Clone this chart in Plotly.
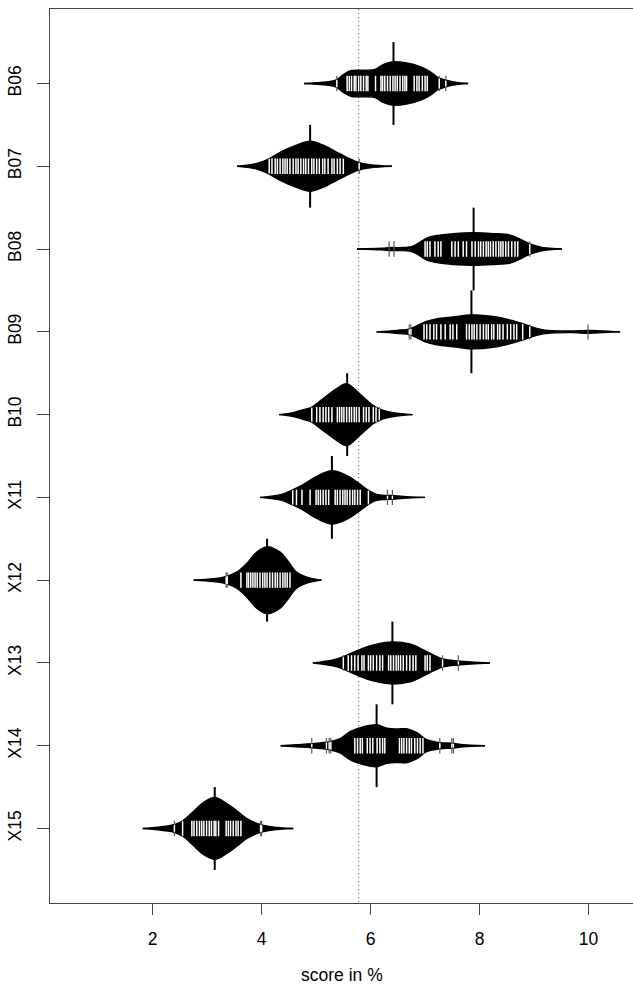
import numpy as np
import plotly.graph_objects as go

# ---------------- data ----------------
beans = ["B06", "B07", "B08", "B09", "B10", "X11", "X12", "X13", "X14", "X15"]

obs_b06 = [5.38, 5.57, 5.61, 5.65, 5.70, 5.73, 5.78, 5.82, 5.87, 5.92, 5.95, 6.09, 6.19, 6.22,
           6.26, 6.31, 6.36, 6.41, 6.45, 6.49, 6.54, 6.59, 6.63, 6.66, 6.80, 6.85, 6.89, 6.95,
           7.00, 7.04, 7.26, 7.38]
obs_b07 = [4.14, 4.19, 4.25, 4.29, 4.34, 4.39, 4.43, 4.47, 4.52, 4.58, 4.63, 4.67, 4.72, 4.77,
           4.81, 4.86, 4.92, 4.96, 5.01, 5.06, 5.12, 5.16, 5.22, 5.29, 5.33, 5.39, 5.44, 5.50, 5.79]
obs_b08 = [6.34, 6.43, 7.00, 7.04, 7.09, 7.18, 7.24, 7.29, 7.49, 7.55, 7.61, 7.70, 7.76, 7.86,
           7.92, 7.98, 8.02, 8.07, 8.12, 8.16, 8.20, 8.25, 8.30, 8.35, 8.39, 8.43, 8.48, 8.53,
           8.59, 8.65, 8.70, 8.92]
obs_b09 = [6.71, 6.74, 6.98, 7.03, 7.09, 7.16, 7.21, 7.29, 7.37, 7.46, 7.51, 7.58, 7.76, 7.81,
           7.86, 7.90, 7.95, 8.01, 8.07, 8.12, 8.16, 8.22, 8.26, 8.33, 8.37, 8.43, 8.51, 8.57,
           8.63, 8.68, 8.79, 8.92, 9.99]
obs_b10 = [4.92, 5.01, 5.07, 5.13, 5.18, 5.23, 5.29, 5.39, 5.43, 5.47, 5.51, 5.56, 5.61, 5.65,
           5.70, 5.74, 5.79, 5.87, 5.92, 5.97, 6.05, 6.10, 6.16]
obs_x11 = [4.57, 4.64, 4.74, 4.89, 5.00, 5.04, 5.08, 5.13, 5.18, 5.23, 5.35, 5.39, 5.44, 5.49,
           5.53, 5.57, 5.62, 5.67, 5.71, 5.76, 5.81, 5.96, 6.31, 6.40]
obs_x12 = [3.35, 3.37, 3.62, 3.73, 3.76, 3.80, 3.84, 3.88, 3.92, 3.97, 4.02, 4.06, 4.10, 4.15,
           4.20, 4.25, 4.29, 4.34, 4.39, 4.43, 4.47, 4.52]
obs_x13 = [5.50, 5.59, 5.65, 5.71, 5.77, 5.84, 5.88, 5.96, 6.00, 6.05, 6.11, 6.17, 6.22, 6.33,
           6.37, 6.42, 6.47, 6.51, 6.55, 6.60, 6.66, 6.72, 6.78, 6.83, 7.00, 7.04, 7.09, 7.32, 7.61]
obs_x14 = [4.92, 5.19, 5.24, 5.27, 5.71, 5.76, 5.81, 5.85, 5.94, 5.99, 6.04, 6.12, 6.17, 6.22,
           6.26, 6.53, 6.57, 6.61, 6.66, 6.71, 6.75, 6.81, 6.86, 6.91, 6.96, 7.27, 7.49, 7.52]
obs_x15 = [2.40, 2.55, 2.72, 2.76, 2.81, 2.86, 2.90, 2.94, 2.99, 3.04, 3.08, 3.13, 3.16, 3.21,
           3.35, 3.39, 3.43, 3.48, 3.53, 3.57, 3.62, 3.98, 4.00]

# bean density outlines: score values and half-widths (in category units)
dens_x_b06 = [4.78, 5.26, 5.38, 5.50, 5.65, 5.87, 6.08, 6.23, 6.42, 6.66, 6.91, 7.09, 7.24, 7.40, 7.58, 7.79]
dens_w_b06 = [0, .024, .048, .109, .157, .161, .169, .229, .262, .248, .205, .145, .072, .036, .012, 0]
dens_x_b07 = [3.55, 3.85, 4.03, 4.15, 4.34, 4.64, 4.89, 5.13, 5.38, 5.56, 5.77, 5.99, 6.39]
dens_w_b07 = [0, .024, .060, .097, .169, .254, .302, .254, .169, .109, .048, .018, 0]
dens_x_b08 = [5.75, 6.20, 6.38, 6.60, 6.78, 6.91, 7.03, 7.21, 7.52, 7.88, 8.25, 8.56, 8.74, 8.89, 9.05, 9.23, 9.51]
dens_w_b08 = [0, .010, .018, .018, .036, .085, .133, .163, .187, .197, .187, .169, .121, .072, .036, .012, 0]
dens_x_b09 = [6.11, 6.48, 6.72, 6.85, 7.00, 7.21, 7.52, 7.85, 8.25, 8.62, 8.80, 8.96, 9.17, 9.41, 9.72, 9.99, 10.27, 10.58]
dens_w_b09 = [0, .018, .036, .072, .121, .157, .181, .205, .187, .133, .097, .060, .024, .012, .010, .018, .010, 0]
dens_x_b10 = [4.32, 4.58, 4.77, 4.92, 5.13, 5.38, 5.56, 5.81, 6.05, 6.23, 6.42, 6.77]
dens_w_b10 = [0, .024, .060, .090, .193, .314, .374, .245, .109, .050, .024, 0]
dens_x_x11 = [3.97, 4.37, 4.55, 4.77, 5.01, 5.29, 5.56, 5.81, 5.96, 6.11, 6.30, 6.40, 6.60, 7.00]
dens_w_x11 = [0, .036, .085, .157, .254, .322, .266, .157, .085, .036, .024, .024, .012, 0]
dens_x_x12 = [2.75, 3.11, 3.30, 3.54, 3.73, 3.91, 4.10, 4.34, 4.46, 4.64, 4.83, 5.10]
dens_w_x12 = [0, .018, .036, .097, .205, .338, .405, .338, .250, .097, .036, 0]
dens_x_x13 = [4.94, 5.31, 5.49, 5.74, 6.05, 6.40, 6.72, 6.97, 7.15, 7.33, 7.61, 8.19]
dens_w_x13 = [0, .036, .072, .145, .217, .254, .229, .157, .097, .048, .024, 0]
dens_x_x14 = [4.35, 4.64, 4.92, 5.25, 5.44, 5.62, 5.87, 6.11, 6.30, 6.48, 6.66, 6.85, 7.03, 7.27, 7.49, 7.70, 8.10]
dens_w_x14 = [0, .012, .024, .048, .085, .169, .229, .254, .211, .202, .205, .157, .072, .036, .030, .012, 0]
dens_x_x15 = [1.82, 2.20, 2.41, 2.56, 2.75, 2.93, 3.14, 3.36, 3.54, 3.73, 3.97, 4.20, 4.58]
dens_w_x15 = [0, .024, .048, .097, .205, .314, .374, .302, .217, .121, .048, .018, 0]

bean_means = [6.42, 4.89, 7.89, 7.85, 5.57, 5.29, 4.10, 6.40, 6.11, 3.14]
overall_mean = 5.78
x_ticks = [2, 4, 6, 8, 10]
x_label = "score in %"

observations = [obs_b06, obs_b07, obs_b08, obs_b09, obs_b10, obs_x11, obs_x12, obs_x13, obs_x14, obs_x15]
dens_x = [dens_x_b06, dens_x_b07, dens_x_b08, dens_x_b09, dens_x_b10,
          dens_x_x11, dens_x_x12, dens_x_x13, dens_x_x14, dens_x_x15]
dens_w = [dens_w_b06, dens_w_b07, dens_w_b08, dens_w_b09, dens_w_b10,
          dens_w_x11, dens_w_x12, dens_w_x13, dens_w_x14, dens_w_x15]

# ---------------- styling constants ----------------
FONT = "Liberation Sans, Arial, Helvetica, sans-serif"
FSIZE = 17.5
TICK_HALF = 0.093     # half length of each bean line
AXIS_COL = "#444444"
Y_RANGE = [10.9, 0.1]
X_RANGE = [0.117, 10.815]

fig = go.Figure()

# overall mean (dotted)
fig.add_trace(go.Scatter(x=[overall_mean, overall_mean], y=[Y_RANGE[1], Y_RANGE[0]],
                         mode="lines", line=dict(color="#555555", width=1, dash="1px,3px"),
                         hoverinfo="skip", showlegend=False))

positions = list(range(1, len(beans) + 1))

# bean polygons
for pos, xs, ws in zip(positions, dens_x, dens_w):
    xs = np.asarray(xs, float)
    ws = np.asarray(ws, float)
    fig.add_trace(go.Scatter(x=xs, y=pos - ws, mode="lines",
                             line=dict(color="black", width=1.4, shape="spline", smoothing=1.0),
                             hoverinfo="skip", showlegend=False))
    fig.add_trace(go.Scatter(x=xs, y=pos + ws, mode="lines", fill="tonexty", fillcolor="black",
                             line=dict(color="black", width=1.4, shape="spline", smoothing=1.0),
                             hoverinfo="skip", showlegend=False))

# average lines
mx, my = [], []
for pos, m in zip(positions, bean_means):
    mx += [m, m, None]
    my += [pos - 0.5, pos + 0.5, None]
fig.add_trace(go.Scatter(x=mx, y=my, mode="lines", line=dict(color="black", width=2),
                         hoverinfo="skip", showlegend=False))

# bean lines (individual observations)
for pos, ob, xs, ws in zip(positions, observations, dens_x, dens_w):
    gx, gy, wx, wy = [], [], [], []
    for v in ob:
        gx += [v, v, None]
        gy += [pos - TICK_HALF, pos + TICK_HALF, None]
        w = float(np.interp(v, xs, ws))
        inner = min(TICK_HALF, w - 0.006)
        if inner > 0.012:
            wx += [v, v, None]
            wy += [pos - inner, pos + inner, None]
    fig.add_trace(go.Scatter(x=gx, y=gy, mode="lines", line=dict(color="#5a5a5a", width=1.2),
                             hoverinfo="skip", showlegend=False))
    fig.add_trace(go.Scatter(x=wx, y=wy, mode="lines", line=dict(color="white", width=1.4),
                             hoverinfo="skip", showlegend=False))

fig.update_layout(
    width=633, height=992,
    margin=dict(l=50, r=0, t=9, b=89),
    paper_bgcolor="white", plot_bgcolor="white",
    font=dict(family=FONT, size=FSIZE, color="black"),
    showlegend=False,
    xaxis=dict(range=X_RANGE, tickvals=x_ticks, ticktext=[str(t) for t in x_ticks],
               showgrid=False, zeroline=False, showline=True, linecolor=AXIS_COL, linewidth=1,
               mirror=True, ticks="outside", ticklen=11, tickcolor=AXIS_COL, tickwidth=1,
               ticklabelstandoff=9, tickfont=dict(size=FSIZE, family=FONT)),
    yaxis=dict(range=Y_RANGE, tickvals=positions, ticktext=beans,
               showgrid=False, zeroline=False, showline=True, linecolor=AXIS_COL, linewidth=1,
               ticks="outside", ticklen=12, tickcolor=AXIS_COL, tickwidth=1, tickangle=-90,
               ticklabelstandoff=9, tickfont=dict(size=FSIZE, family=FONT)),
    annotations=[dict(text=x_label, x=0.5, y=-(975 - 903) / 894, xref="paper", yref="paper",
                      xanchor="center", yanchor="middle", showarrow=False,
                      font=dict(size=FSIZE, family=FONT))],
)

fig.write_html("out.html")
